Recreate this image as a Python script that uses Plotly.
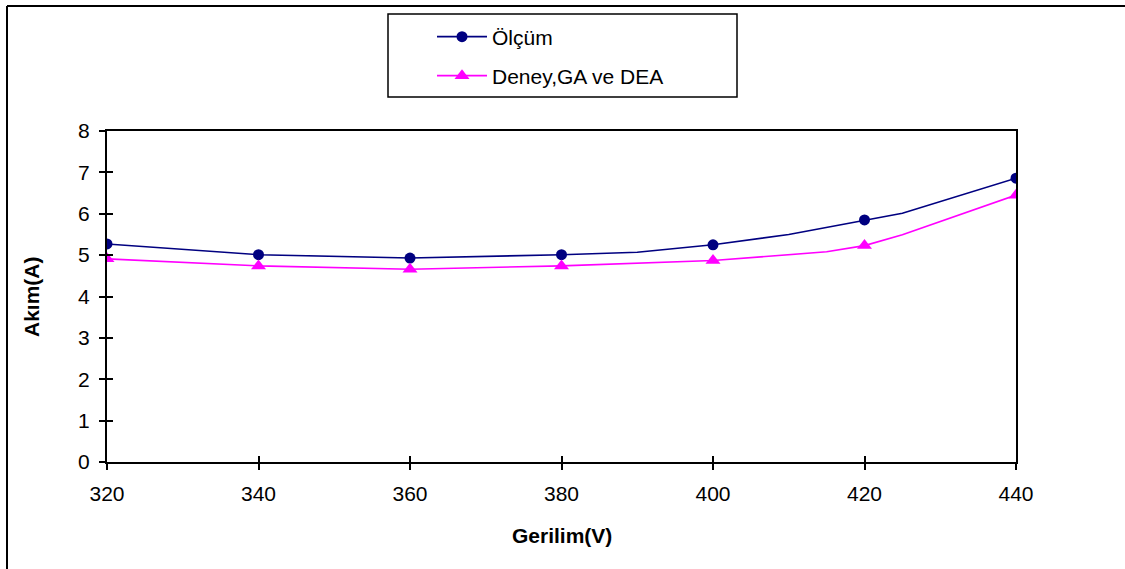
import plotly.graph_objects as go

# ---------------- data ----------------
x_meas_line = [320, 340, 360, 380, 390, 400, 410, 420, 425, 440]
y_meas_line = [5.27, 5.01, 4.93, 5.01, 5.07, 5.25, 5.50, 5.85, 6.01, 6.86]
x_meas_pts = [320, 340, 360, 380, 400, 420, 440]
y_meas_pts = [5.27, 5.01, 4.93, 5.01, 5.25, 5.85, 6.86]

x_model_line = [320, 340, 360, 380, 400, 415, 420, 425, 440]
y_model_line = [4.91, 4.74, 4.66, 4.74, 4.87, 5.08, 5.23, 5.49, 6.45]
x_model_pts = [320, 340, 360, 380, 400, 420, 440]
y_model_pts = [4.91, 4.74, 4.66, 4.74, 4.87, 5.23, 6.45]

series_names = ["Ölçüm", "Deney,GA ve DEA"]
x_ticks = [320, 340, 360, 380, 400, 420, 440]
y_ticks = [0, 1, 2, 3, 4, 5, 6, 7, 8]
x_title = "Gerilim(V)"
y_title = "Akım(A)"

# ---------------- style ----------------
W, H = 1125, 569
L, R, T, B = 107, 1016, 131, 462  # plot area in px
FONT = "Liberation Sans, Arial, sans-serif"
BLUE = "#000080"
PINK = "#FF00FF"
LW = 1.6


def px_x(p):
    return (p - L) / (R - L)


def px_y(p):
    return (B - p) / (B - T)


fig = go.Figure()

# lines through all points
fig.add_trace(go.Scatter(x=x_meas_line, y=y_meas_line, mode="lines",
                         line=dict(color=BLUE, width=LW), showlegend=False,
                         hoverinfo="skip"))
fig.add_trace(go.Scatter(x=x_model_line, y=y_model_line, mode="lines",
                         line=dict(color=PINK, width=LW), showlegend=False,
                         hoverinfo="skip"))
# markers
fig.add_trace(go.Scatter(x=x_meas_pts, y=y_meas_pts, mode="markers",
                         marker=dict(symbol="circle", size=11, color=BLUE),
                         showlegend=False, name=series_names[0]))
fig.add_trace(go.Scatter(x=x_model_pts, y=y_model_pts, mode="markers",
                         marker=dict(symbol="triangle-up", size=13, color=PINK),
                         showlegend=False, name=series_names[1]))
# legend entries
fig.add_trace(go.Scatter(x=[None], y=[None], mode="lines+markers",
                         name=series_names[0], legend="legend",
                         line=dict(color=BLUE, width=LW),
                         marker=dict(symbol="circle", size=11, color=BLUE)))
fig.add_trace(go.Scatter(x=[None], y=[None], mode="lines+markers",
                         name=series_names[1], legend="legend2",
                         line=dict(color=PINK, width=LW),
                         marker=dict(symbol="triangle-up", size=13, color=PINK)))
# dummy trace for the overlay axes (inside half of the cross ticks)
fig.add_trace(go.Scatter(x=[320], y=[0], xaxis="x2", yaxis="y2", mode="markers",
                         marker=dict(opacity=0), showlegend=False, hoverinfo="skip"))

axis_common = dict(showgrid=False, zeroline=False, showline=True,
                   linecolor="black", linewidth=2, ticks="outside",
                   ticklen=6, tickwidth=1.5, tickcolor="black", mirror=True,
                   tickfont=dict(family=FONT, size=21, color="black"))

legend_common = dict(xanchor="left", yanchor="middle", itemwidth=50,
                     bgcolor="rgba(0,0,0,0)", borderwidth=0,
                     font=dict(family=FONT, size=21, color="black"))

fig.update_layout(
    width=W, height=H,
    margin=dict(l=L, r=W - R, t=T, b=H - B, pad=0),
    paper_bgcolor="white", plot_bgcolor="white",
    font=dict(family=FONT, color="black"),
    xaxis=dict(range=[320, 440], tickvals=x_ticks, ticklabelstandoff=6,
               **axis_common),
    yaxis=dict(range=[0, 8], tickvals=y_ticks, ticklabelstandoff=5,
               **axis_common),
    xaxis2=dict(range=[320, 440], tickvals=x_ticks, overlaying="x",
                showgrid=False, zeroline=False, showline=False,
                ticks="inside", ticklen=6, tickwidth=1.5, tickcolor="black",
                showticklabels=False),
    yaxis2=dict(range=[0, 8], tickvals=y_ticks, overlaying="y",
                showgrid=False, zeroline=False, showline=False,
                ticks="inside", ticklen=6, tickwidth=1.5, tickcolor="black",
                showticklabels=False),
    legend=dict(x=px_x(432), y=px_y(37), **legend_common),
    legend2=dict(x=px_x(432), y=px_y(76), **legend_common),
    shapes=[
        # outer chart border (left and top visible)
        dict(type="line", xref="paper", yref="paper",
             x0=px_x(7), x1=px_x(7), y0=px_y(6), y1=px_y(H + 10),
             line=dict(color="black", width=2)),
        dict(type="line", xref="paper", yref="paper",
             x0=px_x(7), x1=px_x(W + 10), y0=px_y(6), y1=px_y(6),
             line=dict(color="black", width=2)),
        # legend box
        dict(type="rect", xref="paper", yref="paper",
             x0=px_x(388), x1=px_x(737), y0=px_y(97), y1=px_y(14),
             line=dict(color="black", width=1.5), fillcolor="rgba(0,0,0,0)"),
    ],
    annotations=[
        dict(text=f"<b>{x_title}</b>", xref="paper", yref="paper",
             x=px_x(562), y=px_y(535), showarrow=False,
             xanchor="center", yanchor="middle",
             font=dict(family=FONT, size=21, color="black")),
        dict(text=f"<b>{y_title}</b>", xref="paper", yref="paper",
             x=px_x(31), y=px_y(297), showarrow=False, textangle=-90,
             xanchor="center", yanchor="middle",
             font=dict(family=FONT, size=21, color="black")),
    ],
)

fig.write_html("out.html")
